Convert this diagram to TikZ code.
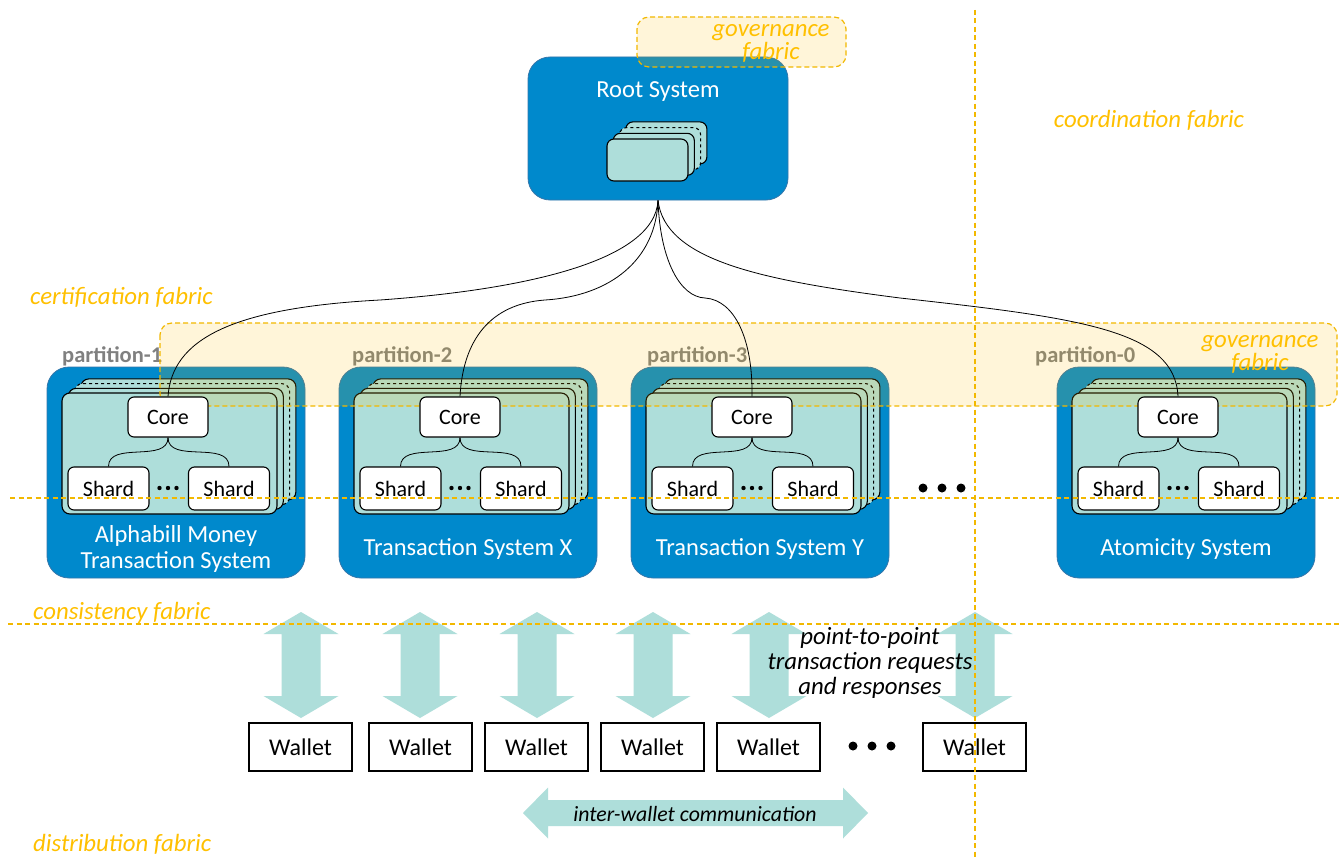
\documentclass[tikz,border=0pt]{standalone}
\usepackage{fontspec}
\setmainfont{Carlito}
\usetikzlibrary{calc}

\definecolor{sysblue}{RGB}{0,137,204}
\definecolor{sysedge}{RGB}{52,118,170}
\definecolor{cardteal}{RGB}{174,222,218}
\definecolor{fabric}{RGB}{255,192,0}
\definecolor{fabricline}{RGB}{242,184,0}
\definecolor{partgrey}{RGB}{128,128,128}

\tikzset{
  sysbox/.style={draw=sysedge, line width=0.8pt, fill=sysblue, rounded corners=22pt,
    minimum width=258pt, minimum height=211pt, inner sep=0pt},
  card/.style={draw=black, line width=1.1pt, fill=cardteal, rounded corners=8pt},
  rootcard/.style={draw=black, line width=1.1pt, fill=cardteal, rounded corners=7pt},
  corebox/.style={draw=black, line width=1.1pt, fill=white, rounded corners=6pt,
    minimum width=80pt, minimum height=40pt, inner sep=0pt,
    font=\fontsize{22}{24}\selectfont},
  shardbox/.style={draw=black, line width=1.1pt, fill=white, rounded corners=6pt,
    minimum width=81pt, minimum height=43pt, inner sep=0pt,
    font=\fontsize{22}{24}\selectfont},
  walletbox/.style={draw=black, line width=1.3pt, fill=white,
    minimum width=103pt, minimum height=48pt, inner sep=0pt,
    font=\fontsize{24}{26}\selectfont},
  syslabel/.style={text=white, align=center, inner sep=0pt,
    font=\fontsize{24.5}{26.5}\selectfont},
  partlabel/.style={text=partgrey, inner sep=0pt,
    font=\bfseries\fontsize{22.5}{24}\selectfont},
  fabriclabel/.style={text=fabric, inner sep=0pt, align=center,
    font=\itshape\fontsize{24.8}{23}\selectfont},
  notelabel/.style={text=black, inner sep=0pt, align=center,
    font=\itshape\fontsize{24.8}{25}\selectfont},
  govbox/.style={draw=fabricline, line width=1.2pt, dash pattern=on 5pt off 3pt,
    fill=fabric, fill opacity=0.15, draw opacity=1, rounded corners=12pt},
  fabricrule/.style={draw=fabricline, line width=1.2pt, dash pattern=on 5pt off 3.5pt},
  link/.style={draw=black, line width=0.8pt},
  flowarrow/.style={fill=cardteal, draw=none},
  bigdot/.style={fill=black, draw=none},
  vdarrow/.pic={
    \fill[flowarrow] (0,-53) -- (37.5,-31) -- (19.5,-31) -- (19.5,31) -- (37.5,31)
      -- (0,53) -- (-37.5,31) -- (-19.5,31) -- (-19.5,-31) -- (-37.5,-31) -- cycle;
  },
}

% a stack of four cards, front card at (left,top) with size (w,h), back cards shifted by (dx,-dy)
\newcommand\drawstack[7]{%
  \foreach \k/\sty in {3/solid,2/dashed,1/solid,0/solid}{
    \draw[#7,\sty] ({#1+\k*#5},{#2-\k*#6}) rectangle ++(#3,#4);
  }%
}

% partition system body: box, card stack, partition tag and system name
\newcommand\partsys[5]{%
  \node[sysbox] (sys#2) at ({#1+129},472.5) {};
  \drawstack{#1+15}{393}{215}{121}{6.3}{4.7}{card}
  \node[partlabel, anchor=base west] (plab#2) at (#3,362) {#4};
  \node[syslabel] (slab#2) at ({#1+129},549) {#5};
}

% core and shard nodes of a partition system
\newcommand\partcore[2]{%
  \node[corebox] (core#2) at ({#1+121},417) {Core};
  \node[shardbox] (shA#2) at ({#1+61.5},488.5) {Shard};
  \node[shardbox] (shB#2) at ({#1+182},488.5) {Shard};
  \draw[link] (core#2.south) to[out=-90,in=90] (shA#2.north);
  \draw[link] (core#2.south) to[out=-90,in=90] (shB#2.north);
  \foreach \d in {-8.5,0,8.5}{\fill[bigdot] ({#1+121+\d},488) circle (2.2);}
}

\begin{document}
\begin{tikzpicture}[x=1pt,y=-1pt]
\useasboundingbox[fill=white] (0,0) rectangle (1339,859);

% root system
\node[sysbox, minimum width=260pt, minimum height=143pt] (root) at (658,128.5) {};
\node[syslabel, anchor=base] (rootlabel) at (658,97) {Root System};
\drawstack{607}{139}{81}{42}{6.3}{5.7}{rootcard}

% governance fabric at the root
\path[govbox] (637,17) rectangle (846,67);
\node[fabriclabel] (govtop) at (771,43) {governance\\fabric};

% partition systems
\partsys{47}{1}{62}{partition-1}{Alphabill Money\\Transaction System}
\partsys{339}{2}{352}{partition-2}{Transaction System X}
\partsys{631}{3}{647}{partition-3}{Transaction System Y}
\partsys{1057}{0}{1035}{partition-0}{Atomicity System}

% governance fabric across the partitions
\path[govbox] (160,323) rectangle (1337,406);
\node[fabriclabel] (govright) at (1260,354) {governance\\fabric};

\partcore{47}{1}
\partcore{339}{2}
\partcore{631}{3}
\partcore{1057}{0}

\foreach \x in {923,942,961}{\fill[bigdot] (\x,488) circle (4.5);}

% certification links from the root
\draw[link] (root.south) .. controls (655,262) and (520,290) .. (380,300)
  .. controls (230,308) and (172,340) .. (core1.north);
\draw[link] (root.south) .. controls (656,260) and (610,296) .. (545,300)
  .. controls (490,304) and (463,340) .. (core2.north);
\draw[link] (root.south) .. controls (660,260) and (680,297) .. (705,298)
  .. controls (735,300) and (753,340) .. (core3.north);
\draw[link] (root.south) .. controls (665,260) and (760,280) .. (900,298)
  .. controls (1080,318) and (1175,330) .. (core0.north);

% wallets and request/response flows
\foreach \x in {301,420,537,653,769,975}{\pic at (\x,665) {vdarrow};}
\node[walletbox] (w1) at (300.5,747) {Wallet};
\node[walletbox] (w2) at (420.5,747) {Wallet};
\node[walletbox] (w3) at (536.5,747) {Wallet};
\node[walletbox] (w4) at (652.5,747) {Wallet};
\node[walletbox] (w5) at (768.5,747) {Wallet};
\node[walletbox] (w6) at (974.5,747) {Wallet};
\foreach \x in {853,872,891}{\fill[bigdot] (\x,746) circle (4.5);}
\node[notelabel] (p2p) at (870,663) {point-to-point\\transaction requests\\and responses};

% inter-wallet communication
\fill[flowarrow] (523,813) -- (548,787.5) -- (548,800) -- (843,800) -- (843,787.5)
  -- (868,813) -- (843,838.5) -- (843,826) -- (548,826) -- (548,838.5) -- cycle;
\node[notelabel, font=\itshape\fontsize{21.8}{23}\selectfont] (iwc) at (695,814) {inter-wallet communication};

% fabric names
\node[fabriclabel] (coord) at (1149,120) {coordination fabric};
\node[fabriclabel, anchor=west] (cert) at (30,297) {certification fabric};
\node[fabriclabel, anchor=west] (cons) at (33,613) {consistency fabric};
\node[fabriclabel, anchor=west] (distr) at (33,844) {distribution fabric};

% fabric boundaries
\draw[fabricrule] (975,10) -- (975,859);
\draw[fabricrule] (10,498) -- (1339,498);
\draw[fabricrule] (8,624) -- (1339,624);
\end{tikzpicture}
\end{document}
